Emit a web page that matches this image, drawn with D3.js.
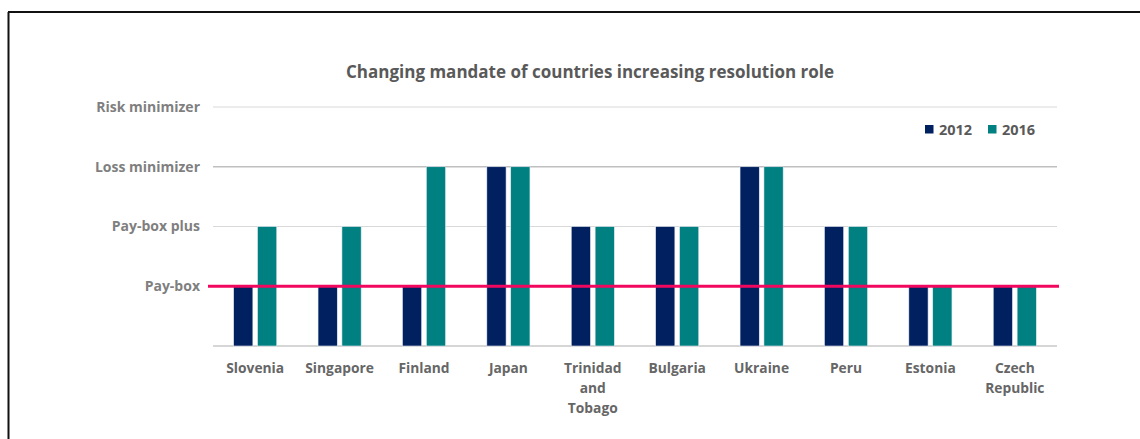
<!DOCTYPE html>
<html><head><meta charset="utf-8">
<script src="https://cdn.jsdelivr.net/npm/d3@7"></script>
<style>
body{margin:0;background:#fff;}
svg text{font-family:"Open Sans","Noto Sans",sans-serif;font-weight:bold;}
</style></head>
<body><svg id="c" width="1140" height="439"></svg>
<script>
const categories = ["Slovenia","Singapore","Finland","Japan","Trinidad and Tobago","Bulgaria","Ukraine","Peru","Estonia","Czech Republic"];
const categoryLines = [["Slovenia"],["Singapore"],["Finland"],["Japan"],["Trinidad","and","Tobago"],["Bulgaria"],["Ukraine"],["Peru"],["Estonia"],["Czech","Republic"]];
const series = ["2012","2016"];
const values2012 = [1,1,1,3,2,2,3,2,1,1];
const values2016 = [2,2,3,3,2,2,3,2,1,1];
const tickValues = [1,2,3,4];
const tickLabels = ["Pay-box","Pay-box plus","Loss minimizer","Risk minimizer"];
const referenceValue = 1;
const title = "Changing mandate of countries increasing resolution role";

const svg = d3.select("#c");
const colors = {"2012":"#002060","2016":"#008080"};

// frame
svg.append("line").attr("x1",8.5).attr("x2",8.5).attr("y1",12).attr("y2",439).attr("stroke","#111").attr("stroke-width",2);
svg.append("line").attr("x1",8).attr("x2",1140).attr("y1",12).attr("y2",12).attr("stroke","#111").attr("stroke-width",2);

const L=213,R=1057,T=107,B=346;
const x = d3.scaleBand().domain(categories).range([L,R]);
const y = d3.scaleLinear().domain([0,4]).range([B,T]);

// gridlines
svg.append("g").selectAll("line").data(tickValues).join("line")
  .attr("x1",L).attr("x2",R).attr("y1",d=>y(d)).attr("y2",d=>y(d))
  .attr("stroke",d=>d===3?"#bfbfbf":"#d9d9d9").attr("stroke-width",d=>d===3?1.5:1);
svg.append("line").attr("x1",L).attr("x2",R).attr("y1",B).attr("y2",B).attr("stroke","#c8c8c8").attr("stroke-width",1.5);

// y labels
svg.append("g").selectAll("text").data(tickValues).join("text")
  .attr("x",200).attr("y",d=>y(d)).attr("dy","0.35em").attr("text-anchor","end")
  .attr("fill","#7f7f7f").attr("font-size",14).text((d,i)=>tickLabels[i]);

// bars
const bw = x.bandwidth()*0.228, gap = x.bandwidth()*0.055;
const data = categories.map((c,i)=>({c,v:[values2012[i],values2016[i]]}));
const g = svg.append("g");
data.forEach(d=>{
  const cx = x(d.c)+x.bandwidth()/2;
  d.v.forEach((v,j)=>{
    const x0 = j===0 ? cx-gap/2-bw : cx+gap/2;
    g.append("rect").attr("x",x0).attr("y",y(v)).attr("width",bw).attr("height",y(0)-y(v))
     .attr("fill",colors[series[j]]).attr("stroke","#e8ecf4").attr("stroke-width",0.6);
  });
});

// reference line
svg.append("line").attr("x1",208).attr("x2",1059).attr("y1",y(referenceValue)).attr("y2",y(referenceValue))
  .attr("stroke","#f2075f").attr("stroke-width",3);

// x labels
const xl = svg.append("g");
categories.forEach((c,i)=>{
  const t = xl.append("text").attr("x",x(c)+x.bandwidth()/2).attr("y",373).attr("text-anchor","middle")
    .attr("fill","#666").attr("font-size",13.8);
  categoryLines[i].forEach((ln,k)=>t.append("tspan").attr("x",x(c)+x.bandwidth()/2).attr("dy",k?20:0).text(ln));
});

// title
svg.append("text").attr("x",590).attr("y",77.5).attr("text-anchor","middle").attr("fill","#595959")
  .attr("font-size",17).text(title);

// legend
const lg = svg.append("g");
const lx = [925,988];
series.forEach((s,i)=>{
  lg.append("rect").attr("x",lx[i]).attr("y",125).attr("width",8.5).attr("height",8.5).attr("fill",colors[s]);
  lg.append("text").attr("x",lx[i]+14).attr("y",130).attr("dy","0.36em").attr("fill","#595959").attr("font-size",14.5).text(s);
});
</script></body></html>
